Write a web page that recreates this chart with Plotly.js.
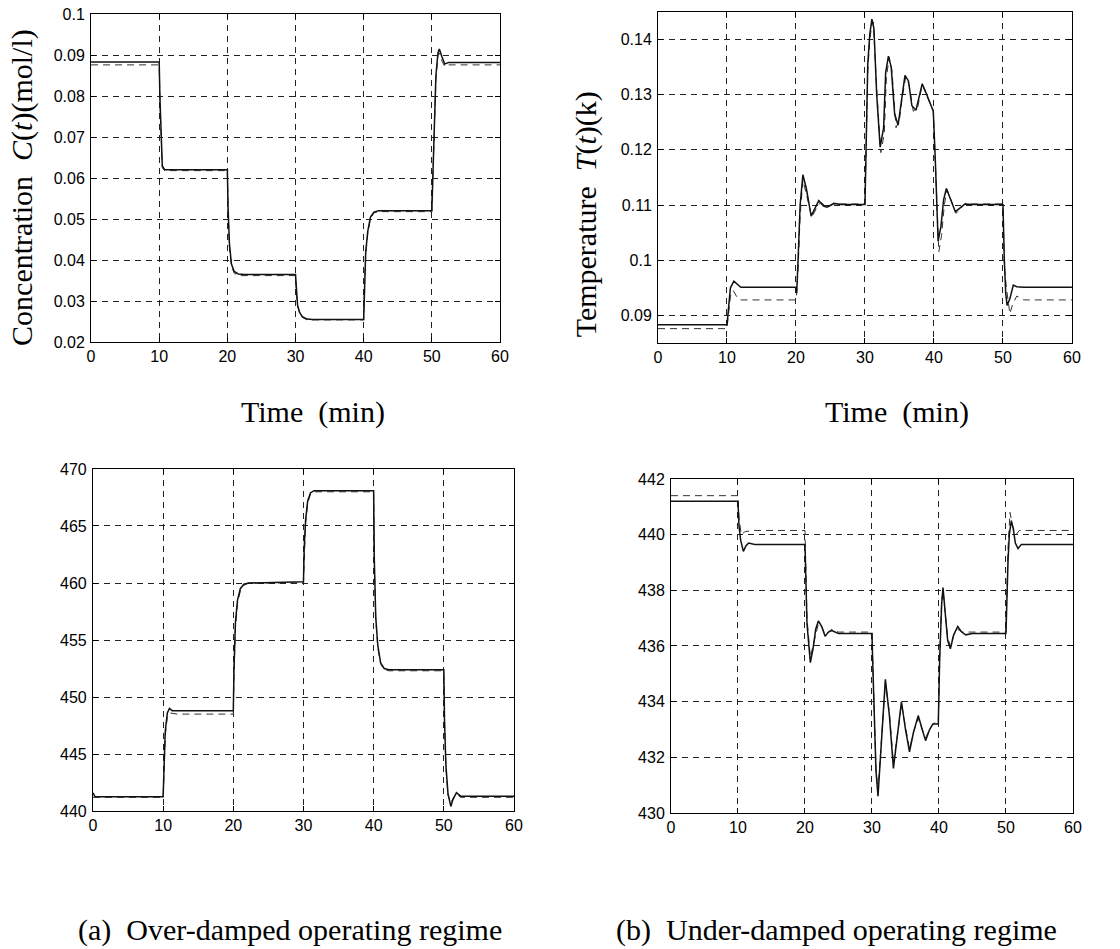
<!DOCTYPE html>
<html>
<head>
<meta charset="utf-8">
<script src="https://cdn.plot.ly/plotly-3.0.1.min.js"></script>
<style>html,body{margin:0;padding:0;background:#fff;}#chart{width:1120px;height:949px;}</style>
</head>
<body>
<div id="chart"></div>
<script>
// ---------- (a) concentration, over-damped ----------
const tCs = [0, 10, 10.1, 10.25, 10.45, 10.8, 20, 20.1, 20.3, 20.6, 21.0, 21.6, 22.5, 30, 30.1, 30.3, 30.6, 31.0, 31.7, 32.5, 40, 40.1, 40.3, 40.6, 41.0, 41.5, 42.2, 50, 50.15, 50.35, 50.6, 50.9, 51.1, 51.5, 51.9, 52.5, 60];
const cSolid = [0.0883, 0.0883, 0.080, 0.070, 0.063, 0.062, 0.062, 0.053, 0.044, 0.039, 0.0372, 0.0366, 0.0365, 0.0365, 0.033, 0.029, 0.0272, 0.0262, 0.0256, 0.0255, 0.0255, 0.034, 0.042, 0.047, 0.0505, 0.0517, 0.052, 0.052, 0.062, 0.075, 0.085, 0.0905, 0.0915, 0.0895, 0.0878, 0.0882, 0.0882];
const tCd = [0, 10, 10.1, 10.25, 10.45, 10.8, 20, 20.1, 20.3, 20.6, 21.0, 21.6, 22.5, 30, 30.1, 30.3, 30.6, 31.0, 31.7, 32.5, 40, 40.1, 40.3, 40.6, 41.0, 41.5, 42.2, 50, 50.15, 50.35, 50.6, 50.9, 51.1, 51.5, 51.9, 52.5, 60];
const cDashed = [0.0876, 0.0876, 0.079, 0.069, 0.0625, 0.0618, 0.0618, 0.052, 0.043, 0.0385, 0.0368, 0.0362, 0.0362, 0.0362, 0.0325, 0.0288, 0.027, 0.026, 0.0254, 0.0254, 0.0254, 0.033, 0.041, 0.0465, 0.050, 0.0515, 0.0518, 0.0518, 0.061, 0.074, 0.084, 0.090, 0.0905, 0.0885, 0.0872, 0.0876, 0.0876];

// ---------- (b) temperature-scaled, under-damped ----------
const tTs = [0, 10, 10.2, 10.5, 11.0, 11.5, 12, 20, 20.1, 20.3, 20.6, 21.0, 21.5, 22.2, 22.8, 23.3, 24.0, 24.5, 25.5, 26.5, 30, 30.15, 30.4, 30.7, 31.0, 31.3, 31.7, 32.2, 32.7, 33.0, 33.4, 33.8, 34.3, 34.8, 35.3, 35.8, 36.3, 36.8, 37.4, 38.0, 38.3, 38.8, 39.4, 39.9, 40.2, 40.6, 41.0, 41.4, 41.8, 42.4, 43.1, 43.8, 44.5, 45.5, 50, 50.2, 50.4, 50.6, 51.0, 51.5, 52.0, 53, 60];
const tSolid = [0.0883, 0.0883, 0.091, 0.095, 0.0962, 0.0957, 0.0951, 0.0951, 0.094, 0.100, 0.110, 0.1155, 0.113, 0.108, 0.1095, 0.1108, 0.1098, 0.1096, 0.1103, 0.1101, 0.1101, 0.122, 0.1355, 0.141, 0.1437, 0.142, 0.130, 0.1205, 0.124, 0.134, 0.137, 0.135, 0.1265, 0.1245, 0.129, 0.1335, 0.1325, 0.128, 0.1272, 0.1305, 0.132, 0.1305, 0.1285, 0.127, 0.118, 0.1035, 0.106, 0.111, 0.113, 0.111, 0.1088, 0.1095, 0.1102, 0.1101, 0.1101, 0.100, 0.094, 0.0918, 0.093, 0.0955, 0.0952, 0.0951, 0.0951];
const tTd = [0, 10, 10.2, 10.5, 10.9, 11.5, 12, 20, 20.1, 20.3, 20.6, 21.0, 21.5, 22.3, 23.0, 23.6, 24.5, 25.5, 30, 30.15, 30.4, 30.7, 31.0, 31.2, 31.7, 32.3, 32.8, 33.1, 33.5, 33.9, 34.5, 35.0, 35.4, 35.9, 36.4, 37.0, 37.6, 38.3, 38.8, 39.5, 39.9, 40.2, 40.7, 41.1, 41.5, 41.9, 42.5, 43.2, 43.9, 44.5, 45.5, 50, 50.2, 50.5, 51.0, 51.4, 52.0, 53, 60];
const tDashed = [0.0876, 0.0876, 0.090, 0.0935, 0.0945, 0.0932, 0.0928, 0.0928, 0.094, 0.098, 0.108, 0.1145, 0.112, 0.1078, 0.1095, 0.1105, 0.1096, 0.1102, 0.1102, 0.121, 0.134, 0.140, 0.1428, 0.1432, 0.131, 0.1195, 0.123, 0.133, 0.1368, 0.1345, 0.124, 0.1255, 0.1295, 0.1332, 0.1318, 0.127, 0.1275, 0.1318, 0.1302, 0.1282, 0.1272, 0.117, 0.1015, 0.1045, 0.110, 0.1128, 0.1108, 0.1085, 0.1094, 0.1103, 0.1102, 0.1102, 0.099, 0.095, 0.0903, 0.092, 0.0935, 0.0928, 0.0928];

// ---------- (a) reactor temperature, over-damped ----------
const tRa = [0, 0.3, 10, 10.1, 10.3, 10.6, 10.9, 11.3, 20, 20.1, 20.3, 20.6, 21.0, 21.5, 22.2, 30, 30.1, 30.3, 30.6, 31.0, 31.5, 40, 40.1, 40.3, 40.6, 41.0, 41.5, 42.2, 50, 50.1, 50.3, 50.6, 51.0, 51.3, 51.8, 52.4, 60];
const rSolidA = [441.6, 441.25, 441.25, 443.0, 447.0, 448.6, 449.0, 448.8, 448.8, 452.5, 456.5, 458.5, 459.5, 459.9, 460.0, 460.1, 463.0, 465.5, 467.2, 467.9, 468.1, 468.1, 462.0, 457.0, 454.5, 453.0, 452.5, 452.4, 452.4, 448.0, 444.0, 441.5, 440.4, 441.0, 441.6, 441.3, 441.3];
const tRad = [0, 10, 10.1, 10.3, 10.6, 11.0, 12, 20, 20.1, 20.3, 20.6, 21.0, 21.5, 22.2, 30, 30.1, 30.3, 30.6, 31.0, 31.5, 40, 40.1, 40.3, 40.6, 41.0, 41.5, 42.2, 50, 50.1, 50.3, 50.6, 51.0, 51.3, 51.8, 52.4, 60];
const rDashedA = [441.2, 441.2, 442.8, 446.5, 448.3, 448.6, 448.5, 448.5, 452.0, 456.0, 458.2, 459.3, 459.8, 460.0, 460.0, 462.7, 465.2, 467.0, 467.8, 468.0, 468.0, 461.8, 456.8, 454.3, 452.9, 452.4, 452.3, 452.3, 447.8, 443.8, 441.4, 440.7, 441.1, 441.5, 441.2, 441.2];

// ---------- (b) reactor temperature, under-damped ----------
const tRb = [0, 10, 10.15, 10.4, 10.8, 11.2, 11.6, 12.5, 20, 20.1, 20.3, 20.8, 21.2, 21.6, 22.0, 22.5, 23.0, 23.5, 24.0, 25, 30, 30.1, 30.3, 30.6, 30.9, 31.4, 32.0, 32.6, 33.2, 33.8, 34.4, 35.0, 35.6, 36.2, 36.9, 37.5, 38.0, 38.6, 39.1, 39.9, 40.1, 40.4, 40.6, 41.0, 41.3, 41.7, 42.2, 42.8, 43.4, 44.0, 45, 50, 50.1, 50.3, 50.5, 50.8, 51.1, 51.4, 51.8, 52.3, 53, 60];
const rSolidB = [441.2, 441.2, 440.3, 439.8, 439.4, 439.6, 439.7, 439.65, 439.65, 438.5, 436.8, 435.4, 435.9, 436.6, 436.9, 436.7, 436.35, 436.5, 436.55, 436.45, 436.45, 435.5, 433.5, 431.5, 430.6, 432.5, 434.8, 433.5, 431.6, 432.8, 434.0, 433.0, 432.2, 432.9, 433.5, 433.0, 432.6, 433.0, 433.2, 433.2, 435.5, 437.5, 438.1, 437.0, 436.2, 435.9, 436.4, 436.7, 436.5, 436.4, 436.45, 436.45, 437.5, 439.0, 440.0, 440.5, 440.2, 439.7, 439.5, 439.65, 439.65, 439.65];
const tRbd = [0, 10, 10.15, 10.5, 11.0, 12, 20, 20.1, 20.3, 20.8, 21.2, 21.6, 22.0, 22.5, 23.0, 23.5, 24.0, 25, 30, 30.1, 30.3, 30.6, 30.9, 31.4, 32.0, 32.6, 33.2, 33.8, 34.4, 35.0, 35.6, 36.2, 36.9, 37.5, 38.0, 38.6, 39.1, 39.9, 40.1, 40.4, 40.6, 41.0, 41.3, 41.7, 42.2, 42.8, 43.4, 44.0, 45, 50, 50.1, 50.3, 50.6, 51.0, 51.5, 52.0, 53, 60];
const rDashedB = [441.4, 441.4, 440.6, 440.0, 440.1, 440.15, 440.15, 438.7, 437.0, 435.6, 436.0, 436.5, 436.8, 436.7, 436.4, 436.5, 436.6, 436.5, 436.5, 435.6, 433.6, 431.6, 430.8, 432.6, 434.7, 433.6, 431.8, 432.8, 433.9, 433.1, 432.3, 432.9, 433.4, 433.0, 432.7, 433.0, 433.2, 433.3, 435.6, 437.6, 438.0, 437.0, 436.3, 436.0, 436.4, 436.6, 436.5, 436.5, 436.5, 436.5, 437.6, 439.5, 440.8, 440.3, 440.0, 440.15, 440.15, 440.15];

// ---------- axis ticks ----------
const xTicks = [0, 10, 20, 30, 40, 50, 60];
const yTicksTL = [0.02, 0.03, 0.04, 0.05, 0.06, 0.07, 0.08, 0.09, 0.1];
const yTicksTR = [0.09, 0.1, 0.11, 0.12, 0.13, 0.14];
const yTicksBL = [440, 445, 450, 455, 460, 465, 470];
const yTicksBR = [430, 432, 434, 436, 438, 440, 442];

function solid(x, y, xa, ya) {
  return {x: x, y: y, xaxis: xa, yaxis: ya, mode: 'lines', type: 'scatter',
          line: {color: '#111', width: 1.5}, hoverinfo: 'skip', showlegend: false};
}
function dashed(x, y, xa, ya) {
  return {x: x, y: y, xaxis: xa, yaxis: ya, mode: 'lines', type: 'scatter',
          line: {color: '#333', width: 1, dash: '7px,5px'}, hoverinfo: 'skip', showlegend: false};
}

const traces = [
  dashed(tCd, cDashed, 'x', 'y'), solid(tCs, cSolid, 'x', 'y'),
  dashed(tTd, tDashed, 'x2', 'y2'), solid(tTs, tSolid, 'x2', 'y2'),
  dashed(tRad, rDashedA, 'x3', 'y3'), solid(tRa, rSolidA, 'x3', 'y3'),
  dashed(tRbd, rDashedB, 'x4', 'y4'), solid(tRb, rSolidB, 'x4', 'y4')
];

const tickFont = {family: 'Liberation Sans, Arial, sans-serif', size: 16, color: '#000'};
function xax(domain, anchor) {
  return {domain: domain, anchor: anchor, range: [0, 60], tickvals: xTicks,
          ticks: 'inside', ticklen: 5, tickcolor: '#000', showline: true, linecolor: '#000', linewidth: 1,
          mirror: 'allticks', showgrid: true, gridcolor: '#222', gridwidth: 1, griddash: '6px,5px',
          zeroline: false, tickfont: tickFont, fixedrange: true};
}
function yax(domain, anchor, range, vals) {
  return {domain: domain, anchor: anchor, range: range, tickvals: vals,
          ticks: 'inside', ticklen: 5, tickcolor: '#000', showline: true, linecolor: '#000', linewidth: 1,
          mirror: 'allticks', showgrid: true, gridcolor: '#222', gridwidth: 1, griddash: '6px,5px',
          zeroline: false, tickfont: tickFont, ticklabelstandoff: 2, fixedrange: true};
}

const serif = 'Liberation Serif, Times New Roman, serif';
function note(text, x, y, angle) {
  return {text: text, xref: 'paper', yref: 'paper', x: x, y: y, xanchor: 'center', yanchor: 'middle',
          textangle: angle || 0, showarrow: false, font: {family: serif, size: 30, color: '#000'}};
}
const layout = {
  width: 1120, height: 949,
  margin: {l: 0, r: 0, t: 0, b: 0},
  paper_bgcolor: '#fff', plot_bgcolor: '#fff',
  showlegend: false,
  xaxis: xax([0.0813, 0.4464], 'y'),
  yaxis: yax([0.6396, 0.9852], 'x', [0.02, 0.1], yTicksTL),
  xaxis2: xax([0.5875, 0.9571], 'y2'),
  yaxis2: yax([0.6386, 0.9874], 'x2', [0.085, 0.145], yTicksTR),
  xaxis3: xax([0.0830, 0.4589], 'y3'),
  yaxis3: yax([0.1454, 0.5058], 'x3', [440, 470], yTicksBL),
  xaxis4: xax([0.5991, 0.9580], 'y4'),
  yaxis4: yax([0.1433, 0.4953], 'x4', [430, 442], yTicksBR),
  annotations: [
    note('Concentration&nbsp;&nbsp;<i>C</i>(<i>t</i>)(mol/l)', 0.0196, 0.803, -90),
    note('Temperature&nbsp;&nbsp;<i>T</i>(<i>t</i>)(k)', 0.524, 0.774, -90),
    note('Time&nbsp;&nbsp;(min)', 0.2795, 0.5659),
    note('Time&nbsp;&nbsp;(min)', 0.801, 0.5659),
    note('(a)&nbsp;&nbsp;Over-damped operating regime', 0.259, 0.02),
    note('(b)&nbsp;&nbsp;Under-damped operating regime', 0.747, 0.02)
  ]
};

Plotly.newPlot('chart', traces, layout, {staticPlot: true, displayModeBar: false});
</script>
</body>
</html>
